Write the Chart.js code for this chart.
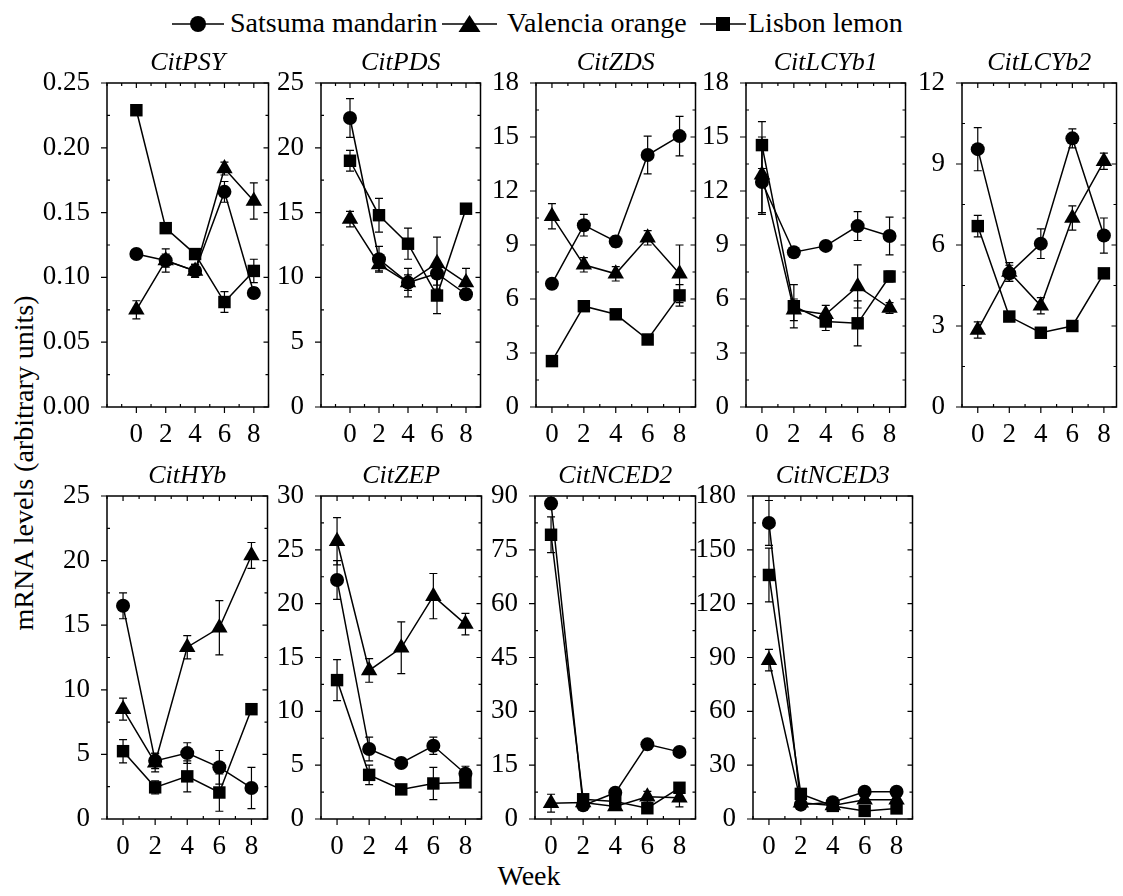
<!DOCTYPE html>
<html>
<head>
<meta charset="utf-8">
<script src="https://cdn.jsdelivr.net/npm/chart.js@4.4.0/dist/chart.umd.min.js"></script>
<style>
  html, body { margin: 0; padding: 0; background: #fff; overflow: hidden; }
  #page { position: relative; width: 1123px; height: 896px; font-family: "Liberation Serif", Tinos, "Times New Roman", Times, "DejaVu Serif", serif; color: #000; }
  .panel { position: absolute; }
  .txt { position: absolute; font-size: 28px; line-height: 32px; height: 32px; white-space: nowrap; }
  .mk { position: absolute; }
</style>
</head>
<body>
<div id="page">
  <div class="txt" style="left:-176px;top:447px;width:400px;text-align:center;transform:rotate(-90deg);">mRNA levels (arbitrary units)</div>
  <div class="txt" style="left:429px;top:860px;width:200px;text-align:center;">Week</div>
</div>
<script>
const FONT = '"Liberation Serif", Tinos, "Times New Roman", Times, "DejaVu Serif", serif';

const weeks = [0, 2, 4, 6, 8];
const seriesNames = ['Satsuma mandarin', 'Valencia orange', 'Lisbon lemon'];

// CitPSY
const psySatsuma = [0.118, 0.113, 0.105, 0.166, 0.088];
const psySatsumaErr = [0.003, 0.005, 0.005, 0.008, 0.004];
const psyValencia = [0.075, 0.113, 0.105, 0.184, 0.159];
const psyValenciaErr = [0.007, 0.009, 0.005, 0.005, 0.014];
const psyLisbon = [0.229, 0.138, 0.118, 0.081, 0.105];
const psyLisbonErr = [0.002, 0.003, 0.004, 0.008, 0.009];

// CitPDS
const pdsSatsuma = [22.3, 11.4, 9.6, 10.3, 8.7];
const pdsSatsumaErr = [1.5, 1.0, 0.6, 0.9, 0.4];
const pdsValencia = [14.5, 11.0, 9.6, 11.1, 9.6];
const pdsValenciaErr = [0.6, 0.5, 1.1, 2.0, 1.1];
const pdsLisbon = [19.0, 14.8, 12.6, 8.6, 15.3];
const pdsLisbonErr = [0.8, 1.3, 1.2, 1.4, 0.3];

// CitZDS
const zdsSatsuma = [6.85, 10.1, 9.2, 14.0, 15.05];
const zdsSatsumaErr = [0.2, 0.6, 0.3, 1.05, 1.1];
const zdsValencia = [10.6, 7.9, 7.4, 9.4, 7.4];
const zdsValenciaErr = [0.7, 0.4, 0.4, 0.4, 1.6];
const zdsLisbon = [2.55, 5.6, 5.15, 3.75, 6.2];
const zdsLisbonErr = [0.2, 0.2, 0.2, 0.2, 0.6];

// CitLCYb1
const lcyb1Satsuma = [12.5, 8.6, 8.95, 10.05, 9.5];
const lcyb1SatsumaErr = [1.8, 0.2, 0.2, 0.8, 1.05];
const lcyb1Valencia = [12.9, 5.4, 5.15, 6.7, 5.5];
const lcyb1ValenciaErr = [2.1, 0.6, 0.5, 1.2, 0.3];
const lcyb1Lisbon = [14.55, 5.6, 4.75, 4.65, 7.25];
const lcyb1LisbonErr = [1.3, 1.2, 0.5, 1.25, 0.3];

// CitLCYb2
const lcyb2Satsuma = [9.55, 4.95, 6.05, 9.95, 6.35];
const lcyb2SatsumaErr = [0.8, 0.3, 0.55, 0.35, 0.65];
const lcyb2Valencia = [2.85, 5.0, 3.75, 7.0, 9.1];
const lcyb2ValenciaErr = [0.3, 0.35, 0.3, 0.45, 0.3];
const lcyb2Lisbon = [6.7, 3.35, 2.75, 3.0, 4.95];
const lcyb2LisbonErr = [0.4, 0.1, 0.1, 0.1, 0.1];

// CitHYb
const hybSatsuma = [16.5, 4.5, 5.1, 4.0, 2.4];
const hybSatsumaErr = [1.0, 0.6, 0.8, 1.3, 1.6];
const hybValencia = [8.5, 4.35, 13.3, 14.8, 20.4];
const hybValenciaErr = [0.85, 0.7, 0.9, 2.1, 1.0];
const hybLisbon = [5.25, 2.45, 3.3, 2.05, 8.5];
const hybLisbonErr = [0.9, 0.5, 1.2, 1.45, 0.2];

// CitZEP
const zepSatsuma = [22.2, 6.5, 5.2, 6.8, 4.2];
const zepSatsumaErr = [1.8, 1.1, 0.3, 0.8, 0.7];
const zepValencia = [25.8, 13.8, 15.9, 20.7, 18.1];
const zepValenciaErr = [2.2, 1.1, 2.4, 2.1, 1.0];
const zepLisbon = [12.9, 4.1, 2.75, 3.3, 3.4];
const zepLisbonErr = [1.9, 0.9, 0.2, 1.5, 0.3];

// CitNCED2
const nced2Satsuma = [87.9, 3.8, 7.3, 20.8, 18.7];
const nced2SatsumaErr = [1.5, 0.5, 0.8, 0.8, 0.8];
const nced2Valencia = [4.4, 4.6, 3.5, 6.2, 5.9];
const nced2ValenciaErr = [2.5, 0.5, 0.5, 1.5, 2.5];
const nced2Lisbon = [79.2, 5.5, 4.9, 3.0, 8.7];
const nced2LisbonErr = [5.0, 0.5, 0.5, 0.4, 0.5];

// CitNCED3
const nced3Satsuma = [165, 8.0, 9.3, 15.2, 15.2];
const nced3SatsumaErr = [12.5, 1, 1, 1, 1];
const nced3Valencia = [88.5, 9.0, 7.5, 10.7, 10.7];
const nced3ValenciaErr = [6, 1, 1, 1, 1];
const nced3Lisbon = [136, 14.0, 7.3, 4.5, 5.9];
const nced3LisbonErr = [15, 2, 1, 1, 1];

const page = document.getElementById('page');

// legend: line with marker + label
const legendPos = [[172, 52, 230], [442, 55, 507], [700, 46, 748]];
const legendShapes = [
  '<circle cx="C" cy="17" r="8" fill="#000"/>',
  '<polygon points="C-11,25 C+11,25 C,8" fill="#000"/>',
  '<rect x="C-7" y="10" width="14" height="14" fill="#000"/>'
];
seriesNames.forEach((name, i) => {
  const [lx, lw, tx] = legendPos[i];
  const c = lw / 2;
  const shape = legendShapes[i].replace(/C([+-]\d+)?/g, (m, off) => String(c + (off ? Number(off) : 0)));
  const svg = document.createElement('div');
  svg.className = 'mk';
  svg.style.left = lx + 'px';
  svg.style.top = '7px';
  svg.innerHTML = '<svg width="' + lw + '" height="32"><line x1="0" y1="17" x2="' + lw + '" y2="17" stroke="#000" stroke-width="1.5"/>' + shape + '</svg>';
  page.appendChild(svg);
  const t = document.createElement('div');
  t.className = 'txt';
  t.style.left = tx + 'px';
  t.style.top = '7px';
  t.textContent = name;
  page.appendChild(t);
});

const panels = [
  { title: 'CitPSY', max: 0.25, step: 0.05, dec: 2, xmin: -2, xmax: 9, box: [107, 83, 272, 407],
    series: [[psySatsuma, psySatsumaErr], [psyValencia, psyValenciaErr], [psyLisbon, psyLisbonErr]] },
  { title: 'CitPDS', max: 25, step: 5, dec: 0, xmin: -2, xmax: 9, box: [321, 83, 484, 407],
    series: [[pdsSatsuma, pdsSatsumaErr], [pdsValencia, pdsValenciaErr], [pdsLisbon, pdsLisbonErr]] },
  { title: 'CitZDS', max: 18, step: 3, dec: 0, xmin: -1, xmax: 9, box: [536, 83, 699, 407],
    series: [[zdsSatsuma, zdsSatsumaErr], [zdsValencia, zdsValenciaErr], [zdsLisbon, zdsLisbonErr]] },
  { title: 'CitLCYb1', max: 18, step: 3, dec: 0, xmin: -1, xmax: 9, box: [746, 83, 909, 407],
    series: [[lcyb1Satsuma, lcyb1SatsumaErr], [lcyb1Valencia, lcyb1ValenciaErr], [lcyb1Lisbon, lcyb1LisbonErr]] },
  { title: 'CitLCYb2', max: 12, step: 3, dec: 0, xmin: -1, xmax: 8.8, box: [962, 83, 1120, 407],
    series: [[lcyb2Satsuma, lcyb2SatsumaErr], [lcyb2Valencia, lcyb2ValenciaErr], [lcyb2Lisbon, lcyb2LisbonErr]] },
  { title: 'CitHYb', max: 25, step: 5, dec: 0, xmin: -1, xmax: 9, box: [107, 496, 271, 819],
    series: [[hybSatsuma, hybSatsumaErr], [hybValencia, hybValenciaErr], [hybLisbon, hybLisbonErr]] },
  { title: 'CitZEP', max: 30, step: 5, dec: 0, xmin: -1, xmax: 9, box: [321, 496, 485, 819],
    series: [[zepSatsuma, zepSatsumaErr], [zepValencia, zepValenciaErr], [zepLisbon, zepLisbonErr]] },
  { title: 'CitNCED2', max: 90, step: 15, dec: 0, xmin: -1, xmax: 9, box: [535, 496, 699, 819],
    series: [[nced2Satsuma, nced2SatsumaErr], [nced2Valencia, nced2ValenciaErr], [nced2Lisbon, nced2LisbonErr]] },
  { title: 'CitNCED3', max: 180, step: 30, dec: 0, xmin: -1, xmax: 9, box: [753, 496, 916, 819],
    series: [[nced3Satsuma, nced3SatsumaErr], [nced3Valencia, nced3ValenciaErr], [nced3Lisbon, nced3LisbonErr]] }
];

const markerStyle = ['circle', 'triangle', 'rect'];
const markerRadius = [7, 9.5, 8.8];

// box frame with inward / outward ticks like the original plots
const framePlugin = {
  id: 'frame',
  beforeDatasetsDraw(chart) {
    const ctx = chart.ctx, a = chart.chartArea;
    const x = chart.scales.x, y = chart.scales.y;
    ctx.save();
    ctx.strokeStyle = '#000';
    ctx.lineWidth = 1.5;
    ctx.strokeRect(a.left, a.top, a.right - a.left, a.bottom - a.top);
    ctx.lineWidth = 1.2;
    ctx.beginPath();
    const yt = y.ticks.map(t => t.value);
    yt.forEach((v, i) => {
      const py = y.getPixelForValue(v);
      ctx.moveTo(a.left - 6, py); ctx.lineTo(a.left, py);
      ctx.moveTo(a.right - 5, py); ctx.lineTo(a.right, py);
      if (i < yt.length - 1) {
        const pm = y.getPixelForValue((v + yt[i + 1]) / 2);
        ctx.moveTo(a.left, pm); ctx.lineTo(a.left + 3, pm);
        ctx.moveTo(a.right - 3, pm); ctx.lineTo(a.right, pm);
      }
    });
    for (let v = Math.ceil(x.min); v <= Math.floor(x.max); v++) {
      const px = x.getPixelForValue(v);
      if (weeks.includes(v)) {
        ctx.moveTo(px, a.bottom); ctx.lineTo(px, a.bottom + 6);
        ctx.moveTo(px, a.top); ctx.lineTo(px, a.top + 5);
      } else {
        ctx.moveTo(px, a.bottom); ctx.lineTo(px, a.bottom - 3);
        ctx.moveTo(px, a.top); ctx.lineTo(px, a.top + 3);
      }
    }
    ctx.stroke();
    ctx.restore();
  }
};

const errorBarPlugin = {
  id: 'errorBars',
  beforeDatasetsDraw(chart) {
    const ctx = chart.ctx;
    const x = chart.scales.x, y = chart.scales.y;
    ctx.save();
    ctx.strokeStyle = '#000';
    ctx.lineWidth = 1.2;
    chart.data.datasets.forEach(ds => {
      ds.data.forEach((pt, k) => {
        const e = ds.errs[k];
        if (!e) return;
        const px = x.getPixelForValue(pt.x);
        const y1 = y.getPixelForValue(pt.y + e);
        const y2 = y.getPixelForValue(Math.max(pt.y - e, 0));
        ctx.beginPath();
        ctx.moveTo(px, y1); ctx.lineTo(px, y2);
        ctx.moveTo(px - 4, y1); ctx.lineTo(px + 4, y1);
        ctx.moveTo(px - 4, y2); ctx.lineTo(px + 4, y2);
        ctx.stroke();
      });
    });
    ctx.restore();
  }
};

panels.forEach(p => {
  const [L, T, R, B] = p.box;
  const w = R - L + 70 + 6, h = B - T + 35 + 45;
  const wrap = document.createElement('div');
  wrap.className = 'panel';
  wrap.style.left = (L - 70) + 'px';
  wrap.style.top = (T - 35) + 'px';
  const c = document.createElement('canvas');
  c.width = w; c.height = h;
  c.style.width = w + 'px'; c.style.height = h + 'px';
  wrap.appendChild(c);
  page.appendChild(wrap);

  new Chart(c, {
    type: 'line',
    data: {
      datasets: p.series.map((s, i) => ({
        label: seriesNames[i],
        data: weeks.map((wk, k) => ({ x: wk, y: s[0][k] })),
        errs: s[1],
        borderColor: '#000',
        backgroundColor: '#000',
        borderWidth: 1.5,
        pointStyle: markerStyle[i],
        pointRadius: markerRadius[i],
        pointBorderWidth: 0,
        pointBackgroundColor: '#000',
        tension: 0,
        fill: false,
        clip: false
      }))
    },
    options: {
      responsive: false,
      animation: false,
      devicePixelRatio: 1,
      layout: { padding: { left: 0, top: 0, right: 6, bottom: 0 } },
      plugins: {
        legend: { display: false },
        tooltip: { enabled: false },
        title: {
          display: true, text: p.title, fullSize: false, color: '#000',
          font: { family: FONT, size: 26, style: 'italic', weight: 'normal', lineHeight: '30px' },
          padding: { top: 0, bottom: 5 }
        }
      },
      scales: {
        x: {
          type: 'linear', min: p.xmin, max: p.xmax,
          afterBuildTicks: s => { s.ticks = weeks.map(v => ({ value: v })); },
          afterFit: s => { s.height = 45; },
          grid: { display: false }, border: { display: false },
          ticks: { color: '#000', font: { family: FONT, size: 27 }, padding: 4, maxRotation: 0, autoSkip: false }
        },
        y: {
          min: 0, max: p.max,
          afterFit: s => { s.width = 70; },
          grid: { display: false }, border: { display: false },
          ticks: { stepSize: p.step, color: '#000', font: { family: FONT, size: 27 }, padding: 9,
            callback: v => Number(v).toFixed(p.dec) }
        }
      }
    },
    plugins: [framePlugin, errorBarPlugin]
  });
});
</script>
</body>
</html>
